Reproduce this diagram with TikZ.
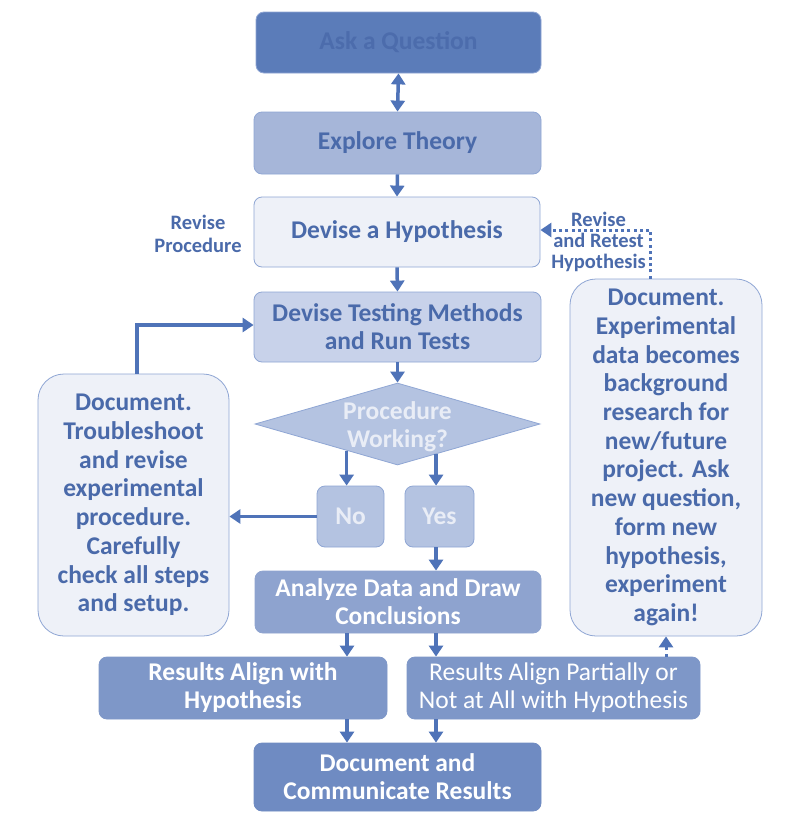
\documentclass[tikz,border=0pt]{standalone}
\usepackage{fontspec}
\setmainfont{Carlito}
\usetikzlibrary{arrows.meta,shapes.geometric,calc}
\definecolor{arrc}{HTML}{4F73B8}
\definecolor{txtc}{HTML}{4A6AAA}
\definecolor{askf}{HTML}{5B7CB9}
\definecolor{askt}{HTML}{4C6CAC}
\definecolor{expf}{HTML}{A6B6D9}
\definecolor{lightf}{HTML}{EEF1F8}
\definecolor{lightb}{HTML}{8FA6D4}
\definecolor{testf}{HTML}{C8D2EA}
\definecolor{diaf}{HTML}{B4C3E1}
\definecolor{diat}{HTML}{E9EDF6}
\definecolor{anaf}{HTML}{8EA3CF}
\definecolor{resf}{HTML}{7E97C8}
\definecolor{docf}{HTML}{6F8BC2}
\begin{document}
\begin{tikzpicture}[x=1pt,y=-1pt,
  box/.style={draw=lightb,line width=0.8pt,rounded corners=8pt,align=center,inner sep=0pt,
     font=\fontsize{25.5}{28}\selectfont\bfseries},
  bigbox/.style={draw=lightb,line width=0.8pt,rounded corners=26pt,fill=lightf,align=center,inner sep=0pt,
     text=txtc,font=\fontsize{25.5}{28.7}\selectfont\bfseries},
  lbl/.style={align=center,text=txtc,inner sep=0pt,font=\fontsize{20.5}{21}\selectfont\bfseries},
  arr/.style={draw=arrc,line width=3.5pt,-{Triangle[width=14pt,length=11pt]}},
  darr/.style={draw=arrc,line width=3.5pt,{Triangle[width=14pt,length=11pt]}-{Triangle[width=14pt,length=11pt]}},
  dots/.style={draw=arrc,line width=3pt,dash pattern=on 3pt off 3.2pt,-{Triangle[width=14pt,length=11pt]}}]
\useasboundingbox[fill=white] (0,0) rectangle (787,822);
% main column
\node[box,fill=askf,text=askt,minimum width=285pt,minimum height=61pt] (ask) at (398.5,42.5) {Ask a Question};
\node[box,fill=expf,text=txtc,minimum width=287pt,minimum height=62pt] (exp) at (397.5,143) {Explore Theory};
\node[box,fill=lightf,text=txtc,minimum width=286pt,minimum height=70pt] (hyp) at (397,232) {Devise a Hypothesis};
\node[box,fill=testf,text=txtc,minimum width=287pt,minimum height=70pt] (test) at (397.5,327) {Devise Testing Methods\\and Run Tests};
\node[draw=lightb,line width=0.8pt,fill=diaf,diamond,aspect=3.5,minimum width=285pt,minimum height=82pt,
   inner sep=0pt] (dia) at (397.5,424) {};
\node[text=diat,align=center,inner sep=0pt,font=\fontsize{25.5}{28}\selectfont\bfseries] (diatxt) at (397.5,427) {Procedure\\Working?};
\node[box,fill=diaf,text=diat,minimum width=67pt,minimum height=61pt] (no) at (350.5,516.5) {No};
\node[box,fill=diaf,text=diat,minimum width=69pt,minimum height=61pt] (yes) at (439.5,516.5) {Yes};
\node[box,fill=anaf,draw=anaf,text=white,minimum width=286pt,minimum height=62pt] (ana) at (398,602) {Analyze Data and Draw\\Conclusions};
\node[box,fill=resf,draw=resf,text=white,minimum width=288pt,minimum height=62pt] (r1) at (243,688) {Results Align with\\Hypothesis};
\node[box,fill=resf,draw=resf,text=white,minimum width=293pt,minimum height=62pt,font=\fontsize{25.5}{28}\selectfont] (r2) at (553.5,688) {Results Align Partially or\\Not at All with Hypothesis};
\node[box,fill=docf,draw=docf,text=white,minimum width=287pt,minimum height=68pt] (doc) at (397.5,777) {Document and\\Communicate Results};
% side boxes
\node[bigbox,minimum width=191pt,minimum height=262pt] (lb) at (133.5,505) {Document.\\Troubleshoot\\and revise\\experimental\\procedure.\\Carefully\\check all steps\\and setup.};
\node[bigbox,minimum width=192pt,minimum height=357pt] (rb) at (666,457.5) {Document.\\Experimental\\data becomes\\background\\research for\\new/future\\project. Ask\\new question,\\form new\\hypothesis,\\experiment\\again!};
% labels
\node[lbl,font=\fontsize{20.5}{23}\selectfont\bfseries] (revp) at (198,234) {Revise\\Procedure};
% connectors
\coordinate (cl) at (347,0);
\coordinate (cr) at (436,0);
\coordinate (cdot) at (650,0);
\coordinate (cloop) at (137,0);
\draw[darr] (ask.south) -- (exp.north);
\draw[arr] (exp.south) -- (hyp.north);
\draw[arr] (hyp.south) -- (test.north);
\draw[arr] (test.south) -- (dia.north);
\coordinate (dl) at ($(dia.south)!0.356!(dia.west)$);
\coordinate (dr) at ($(dia.south)!0.27!(dia.east)$);
\draw[arr] (dl) -- (dl |- no.north);
\draw[arr] (dr) -- (dr |- yes.north);
\draw[arr] (no.west) -- (no.west -| lb.east);
\draw[arr] (yes.south -| cr) -- (ana.north -| cr);
\draw[arr] (ana.south -| cl) -- (r1.north -| cl);
\draw[arr] (ana.south -| cr) -- (r2.north -| cr);
\draw[arr] (r1.south -| cl) -- (doc.north -| cl);
\draw[arr] (r2.south -| cr) -- (doc.north -| cr);
\draw[arr] (lb.north -| cloop) |- ($(test.west)+(0,-2)$);
\draw[dots] (rb.north -| cdot) |- ($(hyp.east)+(0,-2)$);
\draw[dots] (r2.north -| rb.south) -- (rb.south);
\node[lbl] (revr) at (598.5,242) {Revise\\and Retest\\Hypothesis};
\end{tikzpicture}
\end{document}
